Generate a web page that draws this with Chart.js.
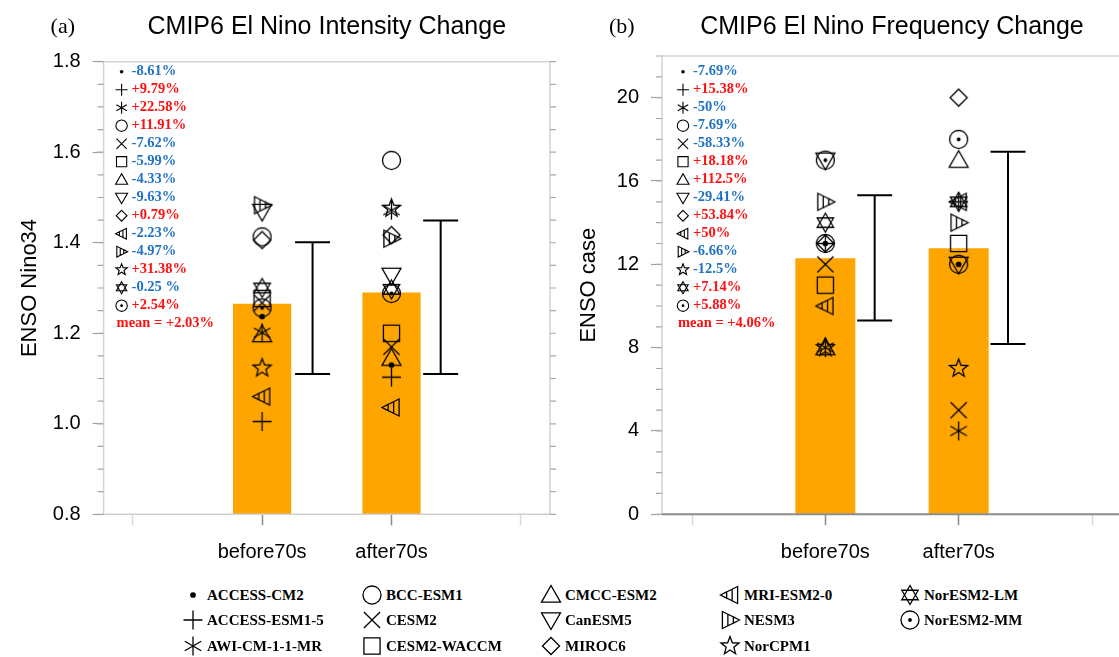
<!DOCTYPE html>
<html>
<head>
<meta charset="utf-8">
<script src="https://cdn.jsdelivr.net/npm/chart.js@4.4.1/dist/chart.umd.min.js"></script>
<style>
  html, body { margin: 0; padding: 0; background: #fff; overflow: hidden; width: 1119px; height: 657px; }
  #wrapA { position: absolute; left: 0; top: 0; width: 560px; height: 580px; }
  #wrapB { position: absolute; left: 560px; top: 0; width: 600px; height: 580px; }
  .leg { position: absolute; display: flex; align-items: center; white-space: nowrap;
         font: bold 15px "Liberation Serif", "Times New Roman", serif; color: #000; }
  .leg span { margin-left: 2px; }
</style>
</head>
<body>
<div id="wrapA"><canvas id="chartA" width="560" height="580"></canvas></div>
<div id="wrapB"><canvas id="chartB" width="600" height="580"></canvas></div>
<div id="legend"></div>
<script>
// Models and their marker shapes
const models = ['ACCESS-CM2', 'ACCESS-ESM1-5', 'AWI-CM-1-1-MR', 'BCC-ESM1', 'CESM2', 'CESM2-WACCM', 'CMCC-ESM2',
                'CanESM5', 'MIROC6', 'MRI-ESM2-0', 'NESM3', 'NorCPM1', 'NorESM2-LM', 'NorESM2-MM'];
const markers = ['dot', 'plus', 'asterisk', 'circle', 'cross', 'square', 'triUp',
                 'triDown', 'diamond', 'triLeft', 'triRight', 'star', 'david', 'circleDot'];

// Categories on the x axis
const periods = ['before70s', 'after70s'];
const periodX = [1, 2];
const xTicks = [0, 1, 2, 3];

// (a) intensity
const intensBefore = [1.237, 1.005, 1.201, 1.413, 1.267, 1.277, 1.197, 1.469, 1.406, 1.060, 1.483, 1.123, 1.300, 1.256];
const intensAfter  = [1.130, 1.103, 1.472, 1.582, 1.170, 1.200, 1.145, 1.328, 1.417, 1.036, 1.409, 1.476, 1.297, 1.288];
const intensMean = [1.265, 1.290];
const intensErrX = [1.39, 2.38];
const intensErrLow = [1.110, 1.110];
const intensErrHigh = [1.401, 1.449];
const intensChange = ['-8.61%', '+9.79%', '+22.58%', '+11.91%', '-7.62%', '-5.99%', '-4.33%',
                      '-9.63%', '+0.79%', '-2.23%', '-4.97%', '+31.38%', '-0.25 %', '+2.54%'];
const intensMeanText = 'mean = +2.03%';
const intensTicks = [0.8, 1.0, 1.2, 1.4, 1.6, 1.8];

// (b) frequency
const freqBefore = [13, 13, 8, 13, 12, 11, 8, 17, 13, 10, 15, 8, 14, 17];
const freqAfter  = [12, 15, 4, 12, 5, 13, 17, 12, 20, 15, 14, 7, 15, 18];
const freqMean = [12.29, 12.77];
const freqErrX = [1.37, 2.37];
const freqErrLow = [9.30, 8.17];
const freqErrHigh = [15.31, 17.40];
const freqChange = ['-7.69%', '+15.38%', '-50%', '-7.69%', '-58.33%', '+18.18%', '+112.5%',
                    '-29.41%', '+53.84%', '+50%', '-6.66%', '-12.5%', '+7.14%', '+5.88%'];
const freqMeanText = 'mean = +4.06%';
const freqTicks = [0, 4, 8, 12, 16, 20];

const BLUE = '#1f72c4';
const RED = '#ff1010';
const SANS = '"Liberation Sans", Arial, Helvetica, sans-serif';
const SERIF = '"Liberation Serif", "Times New Roman", serif';

// Marker drawing (NCL-like shapes)
function tri(ctx, pts) {
    ctx.moveTo(pts[0], pts[1]);
    ctx.lineTo(pts[2], pts[3]);
    ctx.lineTo(pts[4], pts[5]);
    ctx.closePath();
}

function nested(ctx, tip, a, b) {
    [1, 0.68, 0.36].forEach(s => {
        tri(ctx, [tip[0], tip[1],
                  tip[0] + s * (a[0] - tip[0]), tip[1] + s * (a[1] - tip[1]),
                  tip[0] + s * (b[0] - tip[0]), tip[1] + s * (b[1] - tip[1])]);
    });
}

function drawMarker(ctx, type, cx, cy, size, lw) {
    const r = size / 2;
    ctx.save();
    ctx.strokeStyle = '#000';
    ctx.fillStyle = '#000';
    ctx.lineWidth = lw;
    ctx.beginPath();
    switch (type) {
        case 'dot':
            ctx.arc(cx, cy, Math.max(1.5, r * 0.3), 0, Math.PI * 2);
            ctx.fill();
            break;
        case 'plus':
            ctx.moveTo(cx - r, cy); ctx.lineTo(cx + r, cy);
            ctx.moveTo(cx, cy - r); ctx.lineTo(cx, cy + r);
            ctx.stroke();
            break;
        case 'asterisk':
            [90, 30, 150].forEach(a => {
                const t = a * Math.PI / 180;
                ctx.moveTo(cx - r * Math.cos(t), cy - r * Math.sin(t));
                ctx.lineTo(cx + r * Math.cos(t), cy + r * Math.sin(t));
            });
            ctx.stroke();
            break;
        case 'circle':
            ctx.arc(cx, cy, r * 0.95, 0, Math.PI * 2);
            ctx.stroke();
            break;
        case 'cross': {
            const d = r * 0.85;
            ctx.moveTo(cx - d, cy - d); ctx.lineTo(cx + d, cy + d);
            ctx.moveTo(cx + d, cy - d); ctx.lineTo(cx - d, cy + d);
            ctx.stroke();
            break;
        }
        case 'square': {
            const h = r * 0.85;
            ctx.rect(cx - h, cy - h, 2 * h, 2 * h);
            ctx.stroke();
            break;
        }
        case 'triUp':
            tri(ctx, [cx, cy - r, cx - r, cy + r * 0.75, cx + r, cy + r * 0.75]);
            ctx.stroke();
            break;
        case 'triDown':
            tri(ctx, [cx, cy + r, cx - r, cy - r * 0.75, cx + r, cy - r * 0.75]);
            ctx.stroke();
            break;
        case 'diamond':
            ctx.moveTo(cx, cy - r * 0.9); ctx.lineTo(cx + r * 0.9, cy);
            ctx.lineTo(cx, cy + r * 0.9); ctx.lineTo(cx - r * 0.9, cy);
            ctx.closePath();
            ctx.stroke();
            break;
        case 'triLeft':
            nested(ctx, [cx - r, cy], [cx + r * 0.8, cy - r * 0.9], [cx + r * 0.8, cy + r * 0.9]);
            ctx.stroke();
            break;
        case 'triRight':
            nested(ctx, [cx + r, cy], [cx - r * 0.8, cy - r * 0.9], [cx - r * 0.8, cy + r * 0.9]);
            ctx.stroke();
            break;
        case 'star':
            for (let k = 0; k < 10; k++) {
                const t = -Math.PI / 2 + k * Math.PI / 5;
                const rr = k % 2 === 0 ? r : r * 0.42;
                const px = cx + rr * Math.cos(t), py = cy + rr * Math.sin(t);
                if (k === 0) ctx.moveTo(px, py); else ctx.lineTo(px, py);
            }
            ctx.closePath();
            ctx.stroke();
            break;
        case 'david':
            [-90, 90].forEach(a0 => {
                for (let k = 0; k < 3; k++) {
                    const t = (a0 + k * 120) * Math.PI / 180;
                    const px = cx + r * Math.cos(t), py = cy + r * Math.sin(t);
                    if (k === 0) ctx.moveTo(px, py); else ctx.lineTo(px, py);
                }
                ctx.closePath();
            });
            ctx.stroke();
            break;
        case 'circleDot':
            ctx.arc(cx, cy, r * 0.95, 0, Math.PI * 2);
            ctx.stroke();
            ctx.beginPath();
            ctx.arc(cx, cy, Math.max(1.4, r * 0.2), 0, Math.PI * 2);
            ctx.fill();
            break;
    }
    ctx.restore();
}

function markerCanvas(type, size, lw) {
    const c = document.createElement('canvas');
    c.width = c.height = Math.ceil(size + 6);
    drawMarker(c.getContext('2d'), type, c.width / 2, c.height / 2, size, lw);
    return c;
}

const plotMarkers = markers.map(m => markerCanvas(m, 19, 1.3));

// Decorations: frame, minor ticks, error bars, per-model text, titles
function panelPlugin(p) {
    return {
        id: 'panel' + p.tag,
        beforeDatasetsDraw(chart) {
            const {ctx, chartArea: a, scales: {y}} = chart;
            ctx.save();
            ctx.strokeStyle = '#d4d4d4';
            ctx.lineWidth = 1.5;
            ctx.beginPath();
            ctx.moveTo(a.left, a.bottom); ctx.lineTo(a.left, a.top);
            ctx.lineTo(a.right, a.top); ctx.lineTo(a.right, a.bottom);
            ctx.stroke();
            // minor ticks left and mirrored right
            ctx.strokeStyle = '#a8a8a8';
            ctx.lineWidth = 1.2;
            ctx.beginPath();
            for (let v = y.min; v <= y.max + 1e-9; v += p.minorStep) {
                const py = y.getPixelForValue(v);
                ctx.moveTo(a.left - 6, py); ctx.lineTo(a.left, py);
                ctx.moveTo(a.right, py); ctx.lineTo(a.right + 6, py);
            }
            ctx.stroke();
            ctx.restore();
        },
        afterDatasetsDraw(chart) {
            const {ctx, chartArea: a, scales: {x, y}} = chart;
            ctx.save();
            ctx.strokeStyle = p.axisColor;
            ctx.lineWidth = p.axisWidth;
            ctx.beginPath();
            ctx.moveTo(a.left, a.bottom); ctx.lineTo(a.right, a.bottom);
            ctx.stroke();
            // error bars
            ctx.strokeStyle = '#000';
            ctx.lineWidth = 2;
            ctx.beginPath();
            p.errX.forEach((ex, i) => {
                const px = x.getPixelForValue(ex);
                const lo = y.getPixelForValue(p.errLow[i]);
                const hi = y.getPixelForValue(p.errHigh[i]);
                ctx.moveTo(px, lo); ctx.lineTo(px, hi);
                ctx.moveTo(px - 17.5, lo); ctx.lineTo(px + 17.5, lo);
                ctx.moveTo(px - 17.5, hi); ctx.lineTo(px + 17.5, hi);
            });
            ctx.stroke();
            ctx.restore();
        },
        afterDraw(chart) {
            const {ctx, chartArea: a} = chart;
            ctx.save();
            // per-model change list
            ctx.font = 'bold 14.5px ' + SERIF;
            ctx.textBaseline = 'middle';
            p.changes.forEach((t, i) => {
                const py = 71.7 + i * 18;
                drawMarker(ctx, markers[i], a.left + p.markOff, py, 12, 1.1);
                ctx.fillStyle = t.startsWith('-') ? BLUE : RED;
                ctx.fillText(t, a.left + p.markOff + 10, py);
            });
            ctx.fillStyle = RED;
            ctx.fillText(p.meanText, a.left + p.markOff - 5, 71.7 + 14 * 18);
            // titles
            ctx.fillStyle = '#000';
            ctx.textAlign = 'center';
            ctx.font = '25px ' + SANS;
            ctx.fillText(p.title, (a.left + a.right) / 2, 27);
            ctx.textAlign = 'left';
            ctx.font = '22px ' + SERIF;
            ctx.fillText(p.tag, a.left - 53, 27);
            ctx.restore();
        }
    };
}

function makePanel(id, p) {
    const datasets = models.map((m, i) => ({
        label: m,
        data: periodX.map((px, k) => ({x: px, y: [p.before[i], p.after[i]][k]})),
        pointStyle: plotMarkers[i],
        pointRadius: 9,
        showLine: false,
        order: 1
    }));
    datasets.push({
        type: 'bar',
        label: 'mean',
        data: periodX.map((px, k) => ({x: px, y: p.mean[k]})),
        backgroundColor: '#ffa500',
        borderWidth: 0,
        barPercentage: 0.45,
        categoryPercentage: 1.0,
        order: 2
    });
    return new Chart(document.getElementById(id), {
        type: 'scatter',
        data: {datasets},
        options: {
            responsive: false,
            animation: false,
            layout: {padding: {left: 0, top: p.top, right: p.right, bottom: 0}},
            plugins: {legend: {display: false}, tooltip: {enabled: false}},
            scales: {
                x: {
                    type: 'linear', min: -0.225, max: 3.225, offset: false,
                    afterBuildTicks: axis => { axis.ticks = xTicks.map(v => ({value: v})); },
                    afterFit: axis => { axis.height = 65.7; },
                    ticks: {
                        autoSkip: false, maxRotation: 0, padding: 15, color: '#000',
                        font: {family: SANS, size: 20},
                        callback: v => { const k = periodX.indexOf(v); return k >= 0 ? periods[k] : ''; }
                    },
                    grid: {
                        offset: false, drawOnChartArea: false, tickLength: 11, tickWidth: 1.5,
                        tickColor: c => periodX.includes(c.tick && c.tick.value) ? '#8a8a8a' : '#dadada'
                    },
                    border: {display: false}
                },
                y: {
                    min: p.yMin, max: p.yMax,
                    afterBuildTicks: axis => { axis.ticks = p.ticks.map(v => ({value: v})); },
                    afterFit: axis => { axis.width = p.axisW; },
                    ticks: {padding: 12, color: '#000', font: {family: SANS, size: 20}, callback: p.fmt},
                    grid: {drawOnChartArea: false, tickLength: 11, tickWidth: 1.2, tickColor: '#a0a0a0'},
                    border: {display: false},
                    title: {display: true, text: p.yTitle, color: '#000',
                            font: {family: SANS, size: 22}, padding: {top: p.titlePad, bottom: 0}}
                }
            }
        },
        plugins: [panelPlugin(p)]
    });
}

makePanel('chartA', {
    tag: '(a)', title: 'CMIP6 El Nino Intensity Change', yTitle: 'ENSO Nino34',
    before: intensBefore, after: intensAfter, mean: intensMean,
    errX: intensErrX, errLow: intensErrLow, errHigh: intensErrHigh,
    changes: intensChange, meanText: intensMeanText,
    ticks: intensTicks, yMin: 0.8, yMax: 1.8, minorStep: 0.05, fmt: v => v.toFixed(1),
    top: 61.7, right: 3, axisW: 103.6, titlePad: 17, markOff: 18,
    axisColor: '#d0d0d0', axisWidth: 1.5
});

makePanel('chartB', {
    tag: '(b)', title: 'CMIP6 El Nino Frequency Change', yTitle: 'ENSO case',
    before: freqBefore, after: freqAfter, mean: freqMean,
    errX: freqErrX, errLow: freqErrLow, errHigh: freqErrHigh,
    changes: freqChange, meanText: freqMeanText,
    ticks: freqTicks, yMin: 0, yMax: 22, minorStep: 1, fmt: v => String(v),
    top: 56, right: 38, axisW: 102, titlePad: 16, markOff: 21,
    axisColor: '#8c8c8c', axisWidth: 2
});

// Bottom legend
const legCols = [193, 372, 551, 730, 910];
const legRows = [595, 620, 646];
const legend = document.getElementById('legend');
models.forEach((m, i) => {
    const item = document.createElement('div');
    item.className = 'leg';
    item.style.left = (legCols[Math.floor(i / 3)] - 12) + 'px';
    item.style.top = (legRows[i % 3] - 12) + 'px';
    const c = document.createElement('canvas');
    c.width = c.height = 24;
    drawMarker(c.getContext('2d'), markers[i], 12, 12, 19, 1.3);
    const s = document.createElement('span');
    s.textContent = m;
    item.appendChild(c);
    item.appendChild(s);
    legend.appendChild(item);
});
</script>
</body>
</html>
